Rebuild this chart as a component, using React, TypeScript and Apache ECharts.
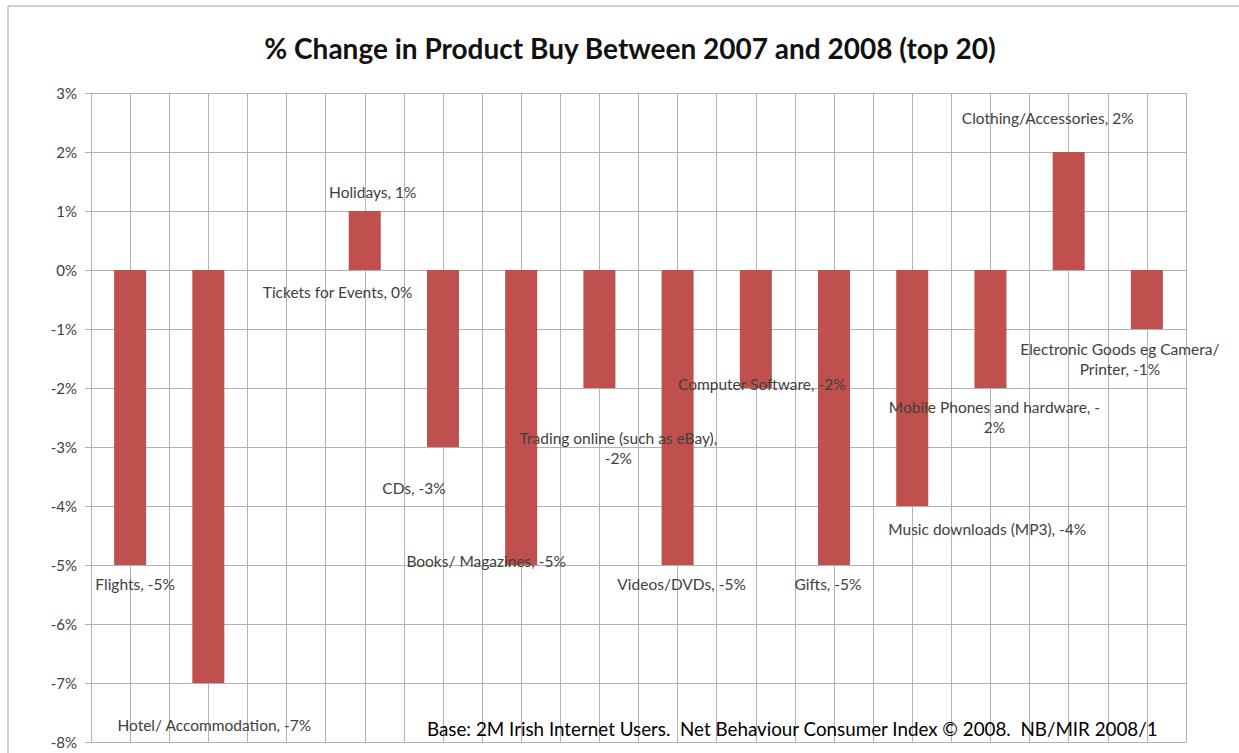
import React, { useEffect, useRef } from "react";
import * as echarts from "echarts";

const categories = [
  "Flights",
  "Hotel/ Accommodation",
  "Tickets for Events",
  "Holidays",
  "CDs",
  "Books/ Magazines",
  "Trading online (such as eBay)",
  "Videos/DVDs",
  "Computer Software",
  "Gifts",
  "Music downloads (MP3)",
  "Mobile Phones and hardware",
  "Clothing/Accessories",
  "Electronic Goods eg Camera/ Printer",
];

const changePct = [-5, -7, 0, 1, -3, -5, -2, -5, -2, -5, -4, -2, 2, -1];

const labelTexts = [
  "Flights, -5%",
  "Hotel/ Accommodation, -7%",
  "Tickets for Events, 0%",
  "Holidays, 1%",
  "CDs, -3%",
  "Books/ Magazines, -5%",
  "Trading online (such as eBay),\n-2%",
  "Videos/DVDs, -5%",
  "Computer Software, -2%",
  "Gifts, -5%",
  "Music downloads (MP3), -4%",
  "Mobile Phones and hardware, -\n2%",
  "Clothing/Accessories, 2%",
  "Electronic Goods eg Camera/\nPrinter, -1%",
];

// label placement tweaks (pixels), mimicking the original's manual label layout
const labelOffsets = [
  [5, 9], [6, 32], [51, 12], [8, -9], [-29, 31], [-35, -14], [19, 40],
  [4, 9], [6, -14], [-6, 9], [75, 13], [4, 9], [-21, -24], [-27, 10],
];

const yMin = -8;
const yMax = 3;
const yStep = 1;

const titleText = "% Change in Product Buy Between 2007 and 2008 (top 20)";
const noteText =
  "Base: 2M Irish Internet Users.  Net Behaviour Consumer Index \u00A9 2008.  NB/MIR 2008/1";

export default function App() {
  const ref = useRef<HTMLDivElement>(null);

  useEffect(() => {
    if (!ref.current) return;
    const chart = echarts.init(ref.current, undefined, { renderer: "svg" });
    const font = "Lato, 'Open Sans', sans-serif";
    const gridColor = "#b2b2b2";

    chart.setOption({
      animation: false,
      backgroundColor: "#ffffff",
      textStyle: { fontFamily: font },
      title: [
        {
          text: titleText,
          left: 625,
          top: 29,
          textAlign: "center",
          textStyle: { fontFamily: font, fontSize: 28, fontWeight: "bold", color: "#111" },
        },
        {
          text: noteText,
          left: 422,
          top: 714,
          textStyle: { fontFamily: font, fontSize: 18.8, fontWeight: "normal", color: "#000" },
        },
      ],
      graphic: [
        {
          type: "rect",
          shape: { x: 8, y: 6, width: 1400, height: 900 },
          style: { fill: "none", stroke: "#a0a0a0", lineWidth: 1 },
          silent: true,
          z: -10,
        },
      ],
      grid: { left: 91, right: 53, top: 93, bottom: 11, containLabel: false },
      xAxis: [
        {
          type: "category",
          data: categories,
          boundaryGap: true,
          axisLine: { show: false },
          axisTick: { show: false },
          axisLabel: { show: false },
          splitLine: { show: false },
        },
        {
          type: "value",
          min: 0,
          max: categories.length * 2,
          interval: 1,
          position: "bottom",
          axisLine: { show: false },
          axisTick: { show: false },
          axisLabel: { show: false },
          splitLine: { show: true, lineStyle: { color: gridColor, width: 1 } },
        },
      ],
      yAxis: {
        type: "value",
        min: yMin,
        max: yMax,
        interval: yStep,
        axisLine: { show: true, lineStyle: { color: gridColor } },
        axisTick: { show: true, length: 6, lineStyle: { color: gridColor } },
        axisLabel: {
          formatter: (v: number) => `${v}%`,
          margin: 14,
          fontSize: 15,
          color: "#404040",
          fontFamily: font,
        },
        splitLine: { show: true, lineStyle: { color: gridColor, width: 1 } },
      },
      series: [
        {
          type: "bar",
          xAxisIndex: 0,
          yAxisIndex: 0,
          barWidth: 32,
          itemStyle: { color: "#c0504d" },
          data: changePct.map((v, i) => ({
            value: v,
            label: {
              show: true,
              position: v > 0 ? "top" : "bottom",
              distance: 0,
              offset: labelOffsets[i],
              formatter: labelTexts[i],
              fontSize: 15.5,
              lineHeight: 20,
              align: "center",
              color: "#404040",
              fontFamily: font,
            },
          })),
        },
      ],
    });

    return () => chart.dispose();
  }, []);

  return (
    <div
      ref={ref}
      style={{ position: "fixed", left: 0, top: 0, width: 1239, height: 753 }}
    />
  );
}
